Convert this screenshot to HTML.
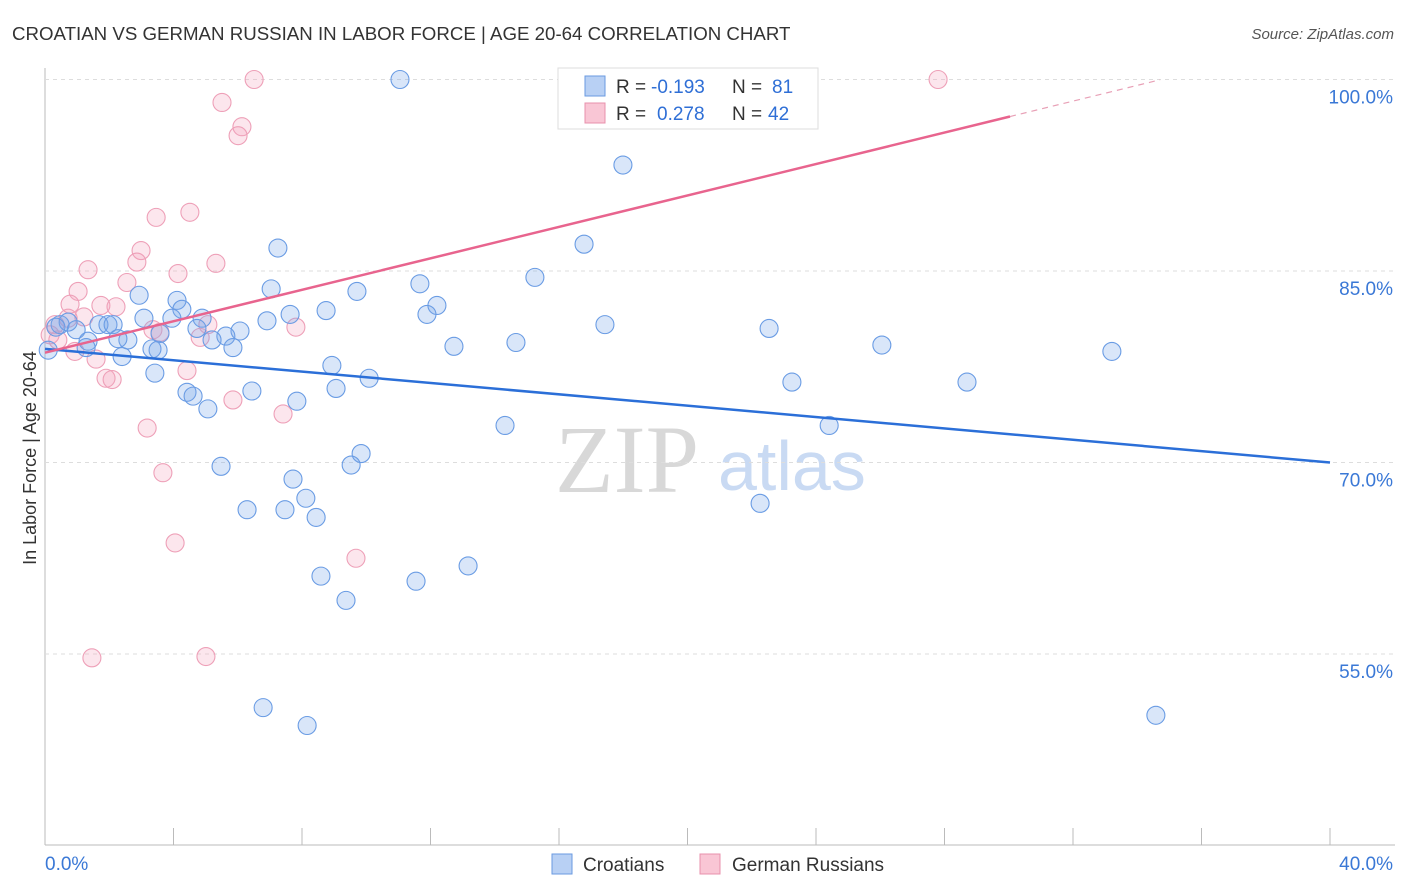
<!DOCTYPE html>
<html><head><meta charset="utf-8"><style>
body{margin:0;background:#fff;font-family:"Liberation Sans",sans-serif;}
#wrap{position:relative;width:1406px;height:892px;overflow:hidden;}
svg{position:absolute;left:0;top:0;}
</style></head><body>
<div id="wrap">
<svg id="c" width="1406" height="892" xmlns="http://www.w3.org/2000/svg">
<text x="12" y="40" font-size="18.7" fill="#333">CROATIAN VS GERMAN RUSSIAN IN LABOR FORCE | AGE 20-64 CORRELATION CHART</text>
<text x="1394" y="39" font-size="15" fill="#555" font-style="italic" text-anchor="end">Source: ZipAtlas.com</text>
<text x="36" y="458" font-size="18" fill="#333" text-anchor="middle" transform="rotate(-90 36 458)">In Labor Force | Age 20-64</text>
<text x="555" y="492" font-size="96" fill="#d8d8d8" font-family="Liberation Serif,serif">ZIP</text>
<text x="718" y="490" font-size="70" fill="#c9daf3">atlas</text>
<g id="grid"></g><g id="marks"></g>
<g font-size="19">
<rect x="558" y="68" width="260" height="61" fill="#fff" stroke="#ddd"/>
<rect x="585" y="76" width="20" height="20" fill="#b8d0f4" stroke="#6a9ae0"/>
<text x="616" y="93" fill="#333">R =</text><text x="651" y="93" fill="#2f6fd6">-0.193</text>
<text x="732" y="93" fill="#333">N =</text><text x="772" y="93" fill="#2f6fd6">81</text>
<rect x="585" y="103" width="20" height="20" fill="#f9c6d5" stroke="#e890ac"/>
<text x="616" y="120" fill="#333">R =</text><text x="657" y="120" fill="#2f6fd6">0.278</text>
<text x="732" y="120" fill="#333">N =</text><text x="768" y="120" fill="#2f6fd6">42</text>
</g>
<g><rect x="552" y="854" width="20" height="20" fill="#b8d0f4" stroke="#6a9ae0"/><text x="583" y="871" font-size="19" fill="#333">Croatians</text></g>
<g><rect x="700" y="854" width="20" height="20" fill="#f9c6d5" stroke="#e890ac"/><text x="732" y="871" font-size="19" fill="#333">German Russians</text></g>
</svg></div>
<script>
const yTicks=[55,70,85,100];
const xTickLabels=["0.0%","40.0%"];
const blueX=[11.05,17.99,16.78,7.25,15.25,2.93,7.04,9.71,11.67,12.20,4.11,4.26,8.75,11.89,17.43,22.54,6.91,7.63,3.08,3.95,4.89,1.68,1.96,2.12,0.47,0.72,0.97,1.34,2.58,2.27,4.73,6.07,5.63,5.20,5.85,3.58,3.33,3.52,2.40,1.28,0.34,0.1,12.73,14.66,26.05,33.21,8.93,10.09,3.42,4.42,4.61,6.44,7.84,9.06,5.07,23.25,28.70,14.32,24.41,9.84,9.53,5.48,7.72,8.12,6.29,7.47,8.44,22.26,13.17,8.59,11.55,9.37,6.79,8.16,34.58];
const blueY=[100.0,93.3,87.1,86.8,84.5,83.1,83.6,83.4,84.0,82.3,82.7,82.0,81.9,81.6,80.8,80.5,81.1,81.6,81.3,81.3,81.3,80.8,80.8,80.8,80.8,81.0,80.4,79.5,79.6,79.7,80.5,80.3,79.9,79.6,79.0,80.1,78.9,78.8,78.3,79.0,80.6,78.8,79.1,79.4,79.2,78.7,77.6,76.6,77.0,75.5,75.2,75.6,74.8,75.8,74.2,76.3,76.3,72.9,72.9,70.7,69.8,69.7,68.7,67.2,66.3,66.3,65.7,66.8,61.9,61.1,60.7,59.2,50.8,49.4,50.2];
const pinkX=[6.51,27.80,5.51,6.13,6.01,3.46,4.51,2.99,2.86,1.34,4.14,5.32,1.03,2.55,0.78,1.74,2.21,1.21,0.72,0.31,0.16,0.40,0.93,1.59,3.36,3.58,4.83,5.07,7.81,1.90,2.09,4.42,5.85,7.41,3.18,3.67,4.05,9.68,1.46,5.01];
const pinkY=[100.0,100.0,98.2,96.3,95.6,89.2,89.6,86.6,85.7,85.1,84.8,85.6,83.4,84.1,82.4,82.3,82.2,81.4,81.3,80.8,80.0,79.6,78.7,78.1,80.4,80.2,79.8,80.8,80.6,76.6,76.5,77.2,74.9,73.8,72.7,69.2,63.7,62.5,54.7,54.8];
const blueTrend=[78.9,70.0];
const pinkTrend=[78.6,97.1,30.04,34.71];
const X=v=>45+v/40*1285, Y=v=>79.5+(100-v)/15*191.5;
const NS="http://www.w3.org/2000/svg";
function mk(t,a,p){const e=document.createElementNS(NS,t);for(const k in a)e.setAttribute(k,a[k]);p.appendChild(e);return e;}
const g=document.getElementById('grid'),m=document.getElementById('marks');
let ax=mk('line',{x1:45,y1:68,x2:45,y2:845,stroke:'#bbb'},g);

let bx=mk('line',{x1:45,y1:845,x2:1395,y2:845,stroke:'#bbb'},g);

yTicks.forEach(v=>{let l=mk('line',{x1:45,y1:Y(v),x2:1395,y2:Y(v),stroke:'#ddd','stroke-dasharray':'4,4'},g);

let t=mk('text',{x:1393,y:Y(v)+24,'font-size':19,fill:'#3a78d6','text-anchor':'end'},g);t.textContent=v.toFixed(1)+'%';
});
for(let i=1;i<=10;i++){let l=mk('line',{x1:X(i*4),y1:828,x2:X(i*4),y2:845,stroke:'#bbb'},g);
}
let t0=mk('text',{x:45,y:870,'font-size':19,fill:'#3a78d6'},g);t0.textContent=xTickLabels[0];

let t1=mk('text',{x:1393,y:870,'font-size':19,fill:'#3a78d6','text-anchor':'end'},g);t1.textContent=xTickLabels[1];

pinkX.forEach((x,i)=>{let c=mk('circle',{cx:X(x),cy:Y(pinkY[i]),r:9,fill:'rgba(244,165,192,0.28)',stroke:'#eea0b8','stroke-width':1.1},m);
});
blueX.forEach((x,i)=>{let c=mk('circle',{cx:X(x),cy:Y(blueY[i]),r:9,fill:'rgba(120,165,235,0.28)',stroke:'#6a9ce4','stroke-width':1.1},m);
});
let bl=mk('line',{x1:X(0),y1:Y(blueTrend[0]),x2:X(40),y2:Y(blueTrend[1]),stroke:'#2b6fd8','stroke-width':2.5},m);

const slope=(pinkTrend[1]-pinkTrend[0])/pinkTrend[2];
let pl=mk('line',{x1:X(0),y1:Y(pinkTrend[0]),x2:X(pinkTrend[2]),y2:Y(pinkTrend[1]),stroke:'#e8648e','stroke-width':2.5},m);

let pd=mk('line',{x1:X(pinkTrend[2]),y1:Y(pinkTrend[1]),x2:X(pinkTrend[3]),y2:Y(pinkTrend[0]+slope*pinkTrend[3]),stroke:'#e8a0b6','stroke-width':1.2,'stroke-dasharray':'6,5'},m);

</script></body></html>
